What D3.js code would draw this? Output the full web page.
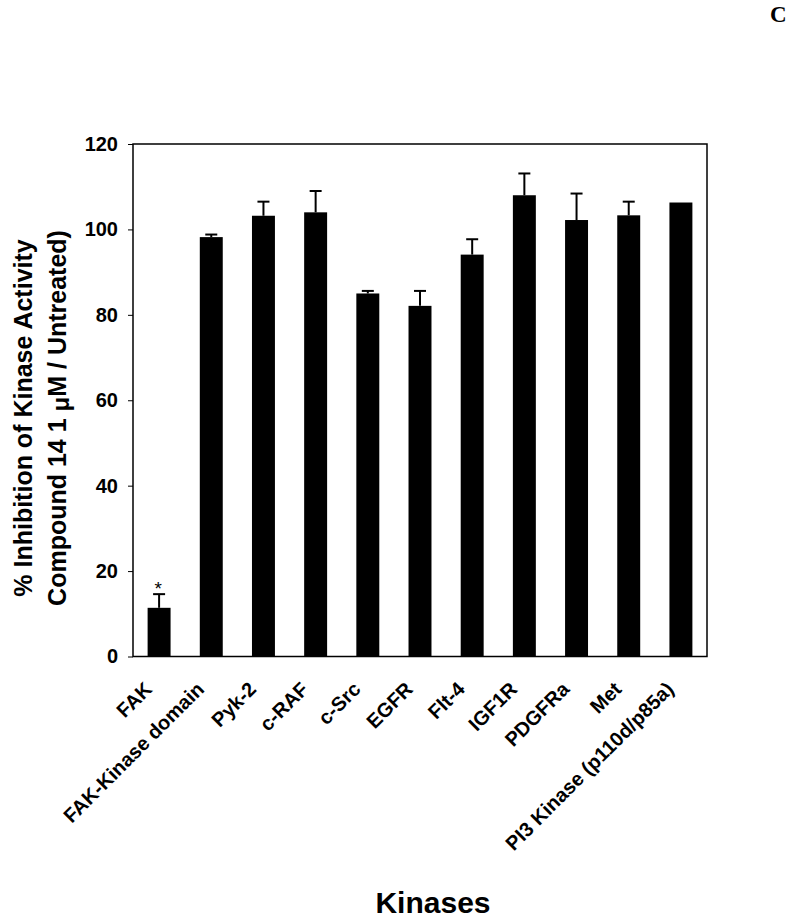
<!DOCTYPE html>
<html><head><meta charset="utf-8">
<script src="https://cdn.jsdelivr.net/npm/d3@7"></script>
<style>body{margin:0;background:#fff}</style>
</head><body>
<svg id="chart" width="791" height="921"></svg>
<script>
const categories = ["FAK","FAK-Kinase domain","Pyk-2","c-RAF","c-Src","EGFR","Flt-4","IGF1R","PDGFRa","Met","PI3 Kinase (p110d/p85a)"];
const values = [11.4, 98.2, 103.2, 104.0, 85.0, 82.1, 94.1, 108.0, 102.2, 103.3, 106.3];
const errors = [3.2, 0.6, 3.3, 5.0, 0.6, 3.5, 3.6, 5.1, 6.2, 3.2, 0];
const significance = ["*","","","","","","","","","",""];
const yTicks = [0,20,40,60,80,100,120];

const svg = d3.select("#chart");
const L = 133, R = 707, T = 144, B = 656.5;
const FONT = "Liberation Sans, Arial, sans-serif";
const x = d3.scaleBand().domain(categories).range([L, R]).paddingInner(0.56).paddingOuter(0.28);
const y = d3.scaleLinear().domain([0,120]).range([B, T]);

// bars
svg.selectAll("rect.bar").data(categories).join("rect")
  .attr("x", d => x(d)).attr("width", x.bandwidth())
  .attr("y", (d,i) => y(values[i])).attr("height", (d,i) => B - y(values[i]))
  .attr("fill", "#000");

// error bars
const cap = 6;
categories.forEach((c,i) => {
  if (errors[i] <= 0) return;
  const cx = x(c) + x.bandwidth()/2;
  svg.append("line").attr("x1",cx).attr("x2",cx).attr("y1",y(values[i])).attr("y2",y(values[i]+errors[i]))
    .attr("stroke","#000").attr("stroke-width",2);
  svg.append("line").attr("x1",cx-cap).attr("x2",cx+cap).attr("y1",y(values[i]+errors[i])).attr("y2",y(values[i]+errors[i]))
    .attr("stroke","#000").attr("stroke-width",2);
});
categories.forEach((c,i) => {
  if (!significance[i]) return;
  const cx = x(c) + x.bandwidth()/2;
  svg.append("text").attr("x",cx-1).attr("y",y(values[i]+errors[i]) + 1)
    .attr("text-anchor","middle").attr("font-family",FONT)
    .attr("font-size",19).text(significance[i]);
});

// frame
svg.append("rect").attr("x",L).attr("y",T).attr("width",R-L).attr("height",B-T)
  .attr("fill","none").attr("stroke","#000").attr("stroke-width",1.5);

// y axis
const yAxis = svg.append("g").attr("transform",`translate(${L},0)`)
  .call(d3.axisLeft(y).tickValues(yTicks).tickSize(5).tickPadding(10));
yAxis.select(".domain").remove();
yAxis.selectAll("line").attr("stroke","#000").attr("stroke-width",1);
yAxis.selectAll("text").attr("font-family",FONT)
  .attr("font-weight","bold").attr("font-size",20).attr("fill","#000");

// x labels
categories.forEach(c => {
  const cx = x(c) + x.bandwidth()/2;
  svg.append("text").attr("transform",`translate(${cx-6},${B+34})rotate(-45)`)
    .attr("text-anchor","end").attr("font-family",FONT)
    .attr("font-weight","bold").attr("font-size",20).text(c);
});

// y title
const yt = svg.append("text").attr("transform","translate(0,418) rotate(-90)")
  .attr("text-anchor","middle").attr("font-family",FONT)
  .attr("font-weight","bold").attr("font-size",25);
yt.append("tspan").attr("x",0).attr("y",32).text("% Inhibition of Kinase Activity");
const t2 = yt.append("tspan").attr("x",0).attr("y",66);
t2.append("tspan").text("Compound 14 1 ");
t2.append("tspan").attr("font-size",24).attr("dy",3).text("μ");
t2.append("tspan").attr("dy",-3).text("M / Untreated)");

// x title
svg.append("text").attr("x",433).attr("y",913).attr("text-anchor","middle")
  .attr("font-family",FONT).attr("font-weight","bold")
  .attr("font-size",30).text("Kinases");

// panel letter
svg.append("text").attr("x",770).attr("y",22).attr("font-family","Liberation Serif, Times New Roman, serif")
  .attr("font-weight","bold").attr("font-size",23).text("C");
</script>
</body></html>
